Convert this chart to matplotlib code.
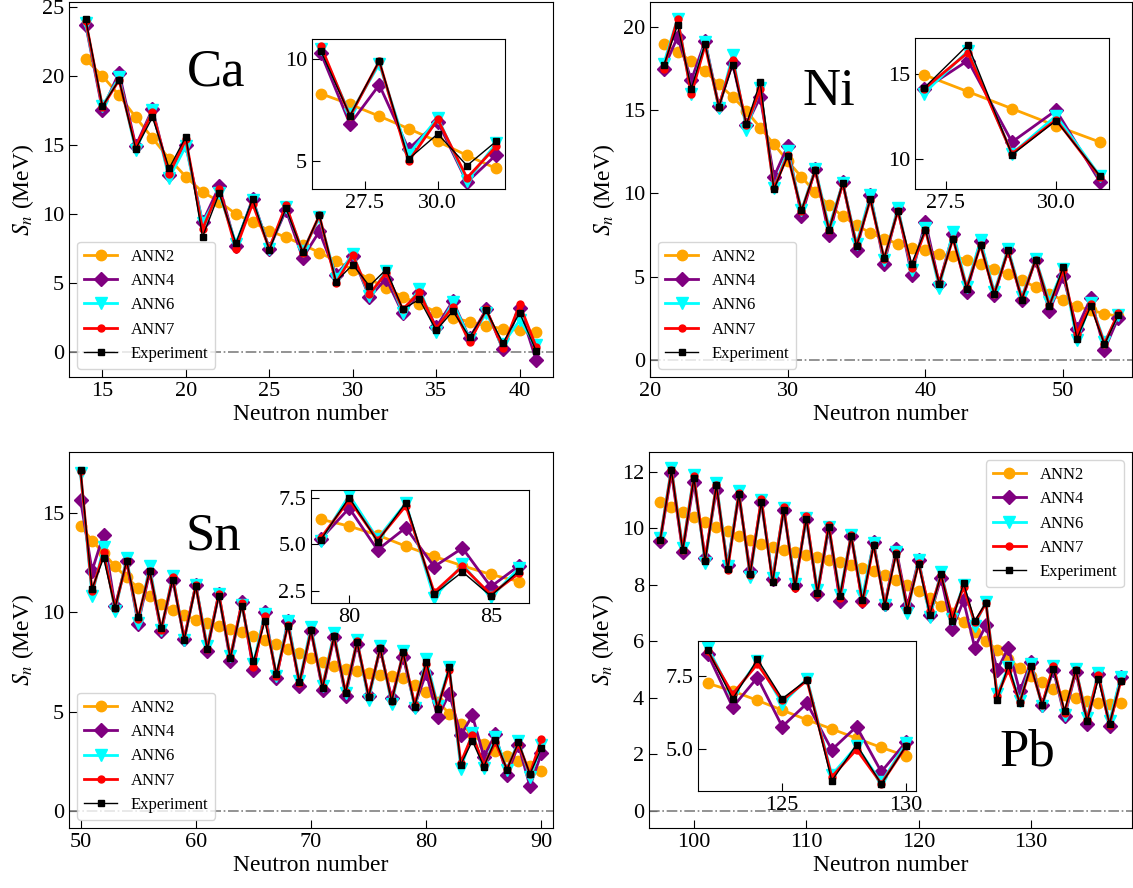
import numpy as np
import matplotlib
matplotlib.use("Agg")
import matplotlib.pyplot as plt

plt.rcParams['font.family'] = ['Liberation Serif', 'DejaVu Serif']
plt.rcParams['mathtext.fontset'] = 'stix'

# ---- Ca (N = 14..41)
ca_n = list(range(14, 42))
ca_exp = [24.15, 17.8, 19.7, 14.7, 17.0, 13.3, 15.6, 8.33, 11.5, 7.9, 11.1, 7.4, 10.4, 7.24,
          9.92, 5.11, 6.34, 4.79, 5.98, 3.12, 3.82, 1.57, 2.97, 1.09, 3.02, 0.65, 2.85, 0.05]
ca_ann2 = [21.2, 20.0, 18.6, 17.0, 15.5, 14.0, 12.7, 11.6, 10.9, 10.0, 9.4, 8.8, 8.31, 7.79,
           7.21, 6.6, 5.97, 5.29, 4.65, 4.0, 3.5, 2.9, 2.5, 2.2, 1.9, 1.7, 1.57, 1.45]
ca_ann4 = [23.7, 17.56, 20.24, 14.93, 17.6, 12.8, 15.0, 9.4, 12.0, 7.7, 11.1, 7.5, 10.3, 6.82,
           8.74, 5.6, 6.94, 3.98, 5.32, 2.8, 4.3, 1.8, 3.7, 1.0, 3.1, 0.2, 3.2, -0.6]
ca_ann6 = [23.8, 17.8, 19.9, 14.6, 17.5, 12.6, 14.9, 9.35, 11.5, 7.85, 11.0, 7.5, 10.5, 7.3,
           9.76, 5.32, 7.13, 4.03, 5.89, 2.85, 4.6, 1.45, 3.6, 0.95, 2.8, 0.6, 2.3, 0.5]
ca_ann7 = [24.0, 17.75, 19.7, 14.85, 17.4, 12.9, 15.4, 8.9, 11.8, 7.5, 10.75, 7.5, 10.65, 7.2,
           9.9, 5.0, 7.05, 4.19, 5.73, 3.1, 4.35, 1.7, 3.3, 0.7, 3.1, 0.3, 3.45, 0.35]

# ---- Ni (N = 21..54)
ni_n = list(range(21, 55))
ni_exp = [17.7, 20.1, 16.3, 19.0, 15.2, 17.7, 14.15, 16.7, 10.24, 12.25, 8.98, 11.38, 7.8, 10.62,
          6.81, 9.64, 6.11, 8.94, 5.77, 7.82, 4.57, 7.27, 4.27, 6.87, 3.93, 6.57, 3.61, 6.01,
          3.23, 5.57, 1.26, 3.21, 0.92, 2.67]
ni_ann2 = [19.0, 18.5, 17.95, 17.35, 16.55, 15.8, 14.95, 13.95, 12.95, 11.94, 10.98, 10.08, 9.28,
           8.62, 8.08, 7.62, 7.27, 6.97, 6.73, 6.57, 6.37, 6.21, 6.01, 5.77, 5.47, 5.13, 4.77,
           4.37, 3.97, 3.57, 3.21, 2.97, 2.77, 2.6]
ni_ann4 = [17.5, 19.4, 16.8, 19.15, 15.23, 17.84, 14.08, 15.78, 10.99, 12.85, 8.63, 11.48, 7.47,
           10.68, 6.61, 9.88, 5.77, 9.08, 5.11, 8.28, 4.57, 7.57, 4.07, 7.13, 3.87, 6.61, 3.57,
           6.01, 2.91, 5.01, 1.86, 3.71, 0.6, 2.52]
ni_ann6 = [17.8, 20.5, 16.0, 19.1, 15.1, 18.3, 13.83, 16.35, 10.3, 12.53, 8.97, 11.48, 7.98,
           10.62, 6.97, 9.88, 5.97, 9.14, 5.37, 7.94, 4.33, 7.68, 4.37, 7.17, 4.07, 6.67, 3.77,
           6.07, 3.47, 5.47, 1.16, 3.41, 1.06, 2.67]
ni_ann7 = [17.5, 20.5, 15.95, 18.9, 15.2, 18.0, 14.1, 16.25, 10.3, 12.3, 8.92, 11.38, 7.8, 10.58,
           6.87, 9.62, 6.07, 8.94, 5.53, 7.78, 4.61, 7.27, 4.33, 6.87, 3.97, 6.53, 3.67, 6.01,
           3.27, 5.37, 1.56, 3.33, 0.96, 2.81]

# ---- Sn (N = 50..90)
sn_n = list(range(50, 91))
sn_exp = [17.19, 11.19, 12.74, 10.22, 12.6, 9.75, 12.07, 9.21, 11.65, 8.62, 11.31, 8.15, 10.81,
          7.7, 10.34, 7.53, 9.55, 6.91, 9.33, 6.49, 9.09, 6.18, 8.79, 5.93, 8.5, 5.73, 8.2, 5.51,
          7.98, 5.25, 7.52, 5.15, 7.25, 2.32, 3.52, 2.22, 3.58, 2.07, 3.45, 1.85, 3.16]
sn_ann2 = [14.37, 13.61, 12.99, 12.32, 11.76, 11.23, 10.81, 10.42, 10.1, 9.85, 9.63, 9.46, 9.33,
           9.16, 8.99, 8.79, 8.59, 8.39, 8.17, 7.95, 7.7, 7.48, 7.28, 7.14, 7.03, 6.94, 6.86,
           6.77, 6.69, 6.35, 5.98, 5.5, 4.9, 4.35, 3.85, 3.38, 3.0, 2.74, 2.49, 2.24, 2.02]
sn_ann4 = [15.68, 12.1, 13.92, 10.3, 12.57, 9.43, 12.02, 9.04, 11.65, 8.67, 11.39, 8.07, 10.92,
           7.56, 10.5, 7.11, 10.0, 6.69, 9.55, 6.3, 9.08, 6.1, 8.74, 5.8, 8.42, 5.76, 8.12, 5.68,
           7.75, 5.3, 6.95, 4.7, 5.9, 3.8, 4.8, 2.72, 3.85, 1.78, 3.33, 1.23, 2.91]
sn_ann6 = [17.03, 10.84, 13.29, 10.05, 12.74, 9.46, 12.32, 9.09, 11.85, 8.62, 11.39, 8.29, 10.92,
           7.78, 10.39, 7.41, 9.93, 6.81, 9.55, 6.52, 9.26, 6.27, 8.96, 5.93, 8.62, 5.56, 8.29,
           5.38, 8.03, 5.2, 7.65, 5.3, 7.22, 2.12, 3.92, 2.15, 3.72, 2.07, 3.5, 1.68, 3.33]
sn_ann7 = [17.1, 11.06, 13.03, 10.22, 12.57, 9.68, 12.1, 9.13, 11.76, 8.66, 11.36, 8.17, 10.94,
           7.73, 10.47, 7.23, 9.8, 6.77, 9.38, 6.44, 9.09, 6.24, 8.82, 5.97, 8.54, 5.76, 8.2,
           5.55, 7.95, 5.35, 7.4, 5.22, 7.08, 2.42, 3.82, 2.3, 3.45, 2.1, 3.38, 1.85, 3.61]

# ---- Pb (N = 97..138)
pb_n = list(range(97, 139))
pb_exp = [9.59, 12.04, 9.21, 11.77, 8.82, 11.53, 8.56, 11.2, 8.37, 10.91, 8.08, 10.63, 7.94,
          10.33, 7.72, 10.04, 7.61, 9.71, 7.44, 9.39, 7.25, 9.09, 7.11, 8.73, 6.93, 8.36, 6.71,
          8.06, 6.72, 7.36, 3.92, 5.16, 3.81, 5.12, 3.73, 5.01, 3.54, 4.99, 3.16, 4.66, 3.08, 4.6]
pb_ann2 = [10.91, 10.73, 10.55, 10.38, 10.2, 10.02, 9.88, 9.73, 9.59, 9.45, 9.33, 9.23, 9.14,
           9.06, 8.96, 8.88, 8.79, 8.69, 8.59, 8.47, 8.33, 8.17, 7.97, 7.76, 7.52, 7.24, 6.98,
           6.66, 6.33, 6.0, 5.69, 5.37, 5.06, 4.77, 4.54, 4.3, 4.1, 3.99, 3.87, 3.81, 3.77, 3.81]
pb_ann4 = [9.53, 11.95, 9.17, 11.63, 8.94, 11.36, 8.7, 11.12, 8.49, 10.91, 8.2, 10.63, 8.0, 10.33,
           7.67, 9.98, 7.43, 9.71, 7.41, 9.5, 7.31, 9.26, 7.23, 8.86, 6.91, 8.23, 6.43, 7.44,
           5.77, 6.56, 4.98, 5.77, 4.23, 5.25, 3.75, 4.99, 3.34, 4.91, 3.08, 4.83, 3.01, 4.72]
pb_ann6 = [9.65, 12.13, 9.29, 11.89, 8.76, 11.59, 8.64, 11.3, 8.27, 11.0, 8.23, 10.71, 8.03,
           10.35, 7.82, 10.04, 7.64, 9.76, 7.58, 9.47, 7.29, 9.17, 6.99, 8.88, 6.87, 8.45, 6.8,
           8.0, 6.55, 7.4, 4.12, 5.1, 3.87, 5.2, 3.69, 5.13, 3.4, 5.01, 3.28, 4.87, 3.16, 4.73]
pb_ann7 = [9.59, 12.06, 9.23, 11.83, 8.88, 11.53, 8.53, 11.24, 8.35, 11.03, 8.11, 10.74, 7.88,
           10.44, 7.68, 10.12, 7.52, 9.76, 7.35, 9.41, 7.29, 9.12, 7.13, 8.76, 7.05, 8.33, 6.88,
           7.9, 6.66, 7.34, 4.06, 4.99, 3.83, 5.1, 3.75, 5.13, 3.46, 4.99, 3.22, 4.81, 3.04, 4.58]

styles = [
    ("ANN2", dict(color="orange", marker="o", ms=7.5, lw=2)),
    ("ANN4", dict(color="purple", marker="D", ms=7, lw=2)),
    ("ANN6", dict(color="cyan", marker="v", ms=9, lw=2)),
    ("ANN7", dict(color="red", marker="o", ms=5, lw=2)),
    ("Experiment", dict(color="black", marker="s", ms=4, lw=1)),
]


def draw_series(ax, n, series, lo=None, hi=None):
    n = np.array(n)
    mask = np.ones(len(n), bool)
    if lo is not None:
        mask = (n >= lo) & (n <= hi)
    for (lab, st), y in zip(styles, series):
        ax.plot(n[mask], np.array(y)[mask], label=lab, **st)


def style_ax(ax, size=16):
    ax.tick_params(direction="in", length=6, labelsize=size)


fig = plt.figure(figsize=(11.33, 8.88), dpi=100)
W, H = 1133.0, 888.0


def axes_px(x0, y0, x1, y1):
    return fig.add_axes([x0 / W, 1 - y1 / H, (x1 - x0) / W, (y1 - y0) / H])


panels = [
    # name, n, series, main box, xlim, ylim, xticks, yticks, legend loc, label pos,
    # inset box, inset range, inset xticks, inset yticks
    ("Ca", ca_n, [ca_ann2, ca_ann4, ca_ann6, ca_ann7, ca_exp], (69, 2, 553, 377),
     (13, 42), (-1.8, 25.35), [15, 20, 25, 30, 35, 40], [0, 5, 10, 15, 20, 25],
     "lower left", (216, 73), (312, 39, 505, 189), (26, 32), [27.5, 30.0], [5, 10]),
    ("Ni", ni_n, [ni_ann2, ni_ann4, ni_ann6, ni_ann7, ni_exp], (650, 2, 1132, 377),
     (20, 55), (-1.04, 21.5), [20, 30, 40, 50], [0, 5, 10, 15, 20],
     "lower left", (829, 92), (915, 38, 1109, 189), (27, 31), [27.5, 30.0], [10, 15]),
    ("Sn", sn_n, [sn_ann2, sn_ann4, sn_ann6, sn_ann7, sn_exp], (69, 452, 553, 828),
     (49, 91), (-0.87, 18.08), [50, 60, 70, 80, 90], [0, 5, 10, 15],
     "lower left", (213, 536), (311, 490, 529, 603), (79, 86), [80, 85], [2.5, 5.0, 7.5]),
    ("Pb", pb_n, [pb_ann2, pb_ann4, pb_ann6, pb_ann7, pb_exp], (649, 452, 1132, 828),
     (96, 139), (-0.61, 12.69), [100, 110, 120, 130], [0, 2, 4, 6, 8, 10, 12],
     "upper right", (1027, 752), (698, 641, 916, 791), (122, 130), [125, 130], [5.0, 7.5]),
]

for (name, n, series, box, xl, yl, xt, yt, loc, tpos, ibox, irng, ixt, iyt) in panels:
    ax = axes_px(*box)
    ax.plot(xl, [0, 0], color="gray", ls="-.", lw=1.2)
    draw_series(ax, n, series)
    ax.set_xlim(xl)
    ax.set_ylim(yl)
    ax.set_xticks(xt)
    ax.set_yticks(yt)
    style_ax(ax)
    ax.set_xlabel("Neutron number", fontsize=17, labelpad=2)
    ax.set_ylabel("$S_n$ (MeV)", fontsize=17, labelpad=4)
    ax.legend(loc=loc, fontsize=12)
    fig.text(tpos[0] / W, 1 - tpos[1] / H, name, fontsize=38, ha="center", va="center")

    ins = axes_px(*ibox)
    draw_series(ins, n, series, irng[0], irng[1])
    ins.set_xticks(ixt)
    ins.set_yticks(iyt)
    style_ax(ins)

fig.savefig("out.png", dpi=100)
